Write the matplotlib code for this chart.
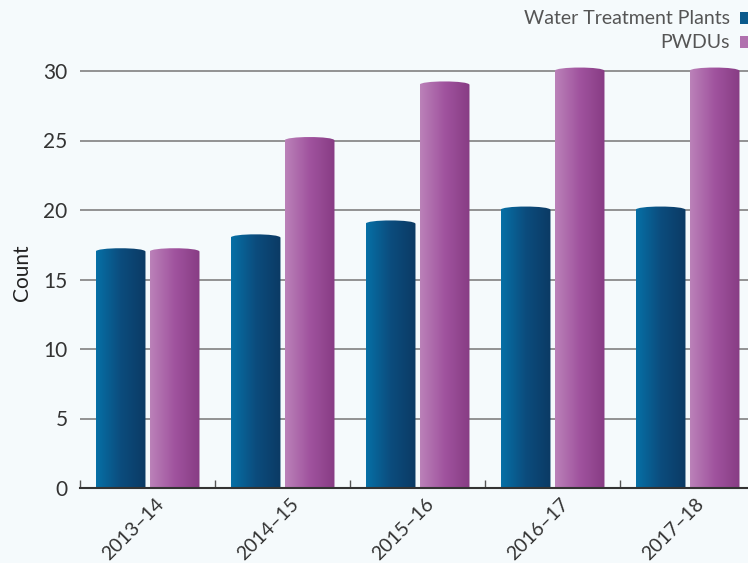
import matplotlib
matplotlib.use("Agg")
import matplotlib.pyplot as plt
import numpy as np
from matplotlib.path import Path
from matplotlib.patches import PathPatch, Rectangle
from matplotlib.colors import LinearSegmentedColormap
import matplotlib.transforms as mtransforms

years = ["2013\u201314", "2014\u201315", "2015\u201316", "2016\u201317", "2017\u201318"]
plants = [17, 18, 19, 20, 20]
pwdus = [17, 25, 29, 30, 30]
series_names = ["Water Treatment Plants", "PWDUs"]

blue_cmap = LinearSegmentedColormap.from_list("b", ["#0670a6", "#0c4c7d", "#0b3a64"])
pink_cmap = LinearSegmentedColormap.from_list("p", ["#bb82b9", "#a0539e", "#873c84"])

plt.rcParams["font.family"] = ["Lato", "DejaVu Sans"]

fig = plt.figure(figsize=(7.48, 5.63), dpi=100, facecolor="#f5fafc")
# y range 0..31 so the rounded tops of the 30 bars are not cut off
ax = fig.add_axes([80 / 748, 75 / 563, 675 / 748, 417 / 30 * 31 / 563])
ax.set_facecolor("none")

x = np.arange(len(years))
w = 0.37
off = 0.2
bars1 = ax.bar(x - off, plants, w, color="none", zorder=2)
bars2 = ax.bar(x + off, pwdus, w, color="none", zorder=2)

grad = np.linspace(0, 1, 256).reshape(1, -1)
cap = 0.25


def cylinder(rect, cmap):
    # bar body with a slightly rounded top, filled with a left-to-right gradient
    x0 = rect.get_x()
    x1 = x0 + rect.get_width()
    h = rect.get_height()
    verts = [(x0, 0), (x0, h), (x0, h + 1.33 * cap), (x1, h + 1.33 * cap), (x1, h),
             (x1, 0), (x0, 0)]
    codes = [Path.MOVETO, Path.LINETO, Path.CURVE4, Path.CURVE4, Path.CURVE4,
             Path.LINETO, Path.CLOSEPOLY]
    patch = PathPatch(Path(verts, codes), facecolor="none", edgecolor="none",
                      transform=ax.transData)
    ax.add_patch(patch)
    im = ax.imshow(grad, cmap=cmap, aspect="auto", extent=[x0, x1, 0, h + 1.1 * cap],
                   zorder=2)
    im.set_clip_path(patch)


for r in bars1:
    cylinder(r, blue_cmap)
for r in bars2:
    cylinder(r, pink_cmap)

ax.set_xlim(-0.5, len(years) - 0.5)
ax.set_ylim(0, 31)
ax.set_yticks(range(0, 31, 5))
ax.tick_params(axis="y", length=0, pad=9, labelsize=15, labelcolor="#333333")
ax.yaxis.grid(True, color="#8a8a8a", linewidth=1.3, zorder=0)
ax.set_axisbelow(True)

ax.set_xticks(x)
ax.set_xticklabels(years, rotation=45, ha="right", fontsize=14, color="#333333")
ax.tick_params(axis="x", which="major", length=0, pad=5)
ax.set_xticks(np.arange(-0.5, len(years), 1), minor=True)
ax.tick_params(axis="x", which="minor", direction="in", length=6, color="#555555", width=1)
shift = mtransforms.ScaledTranslation(20 / 100, 0, fig.dpi_scale_trans)
for lab in ax.get_xticklabels():
    lab.set_transform(lab.get_transform() + shift)

for s in ["top", "right", "left"]:
    ax.spines[s].set_visible(False)
ax.spines["bottom"].set_color("#333333")
ax.spines["bottom"].set_linewidth(1.5)
ax.spines["bottom"].set_zorder(3)

ax.set_ylabel("Count", fontsize=15, color="#222222", labelpad=8)

# legend at the top right
colors = ["#0b5a8c", "#b070ae"]
for i, name in enumerate(series_names):
    yy = 1 - (18 + 24 * i) / 563
    fig.text(730 / 748, yy, name, ha="right", va="center", fontsize=14,
             color="#555555")
    fig.patches.append(Rectangle((740 / 748, yy - 6 / 563), 12 / 748, 12 / 563,
                                 transform=fig.transFigure, facecolor=colors[i],
                                 edgecolor="none"))

fig.savefig("out.png", dpi=100, facecolor=fig.get_facecolor())
